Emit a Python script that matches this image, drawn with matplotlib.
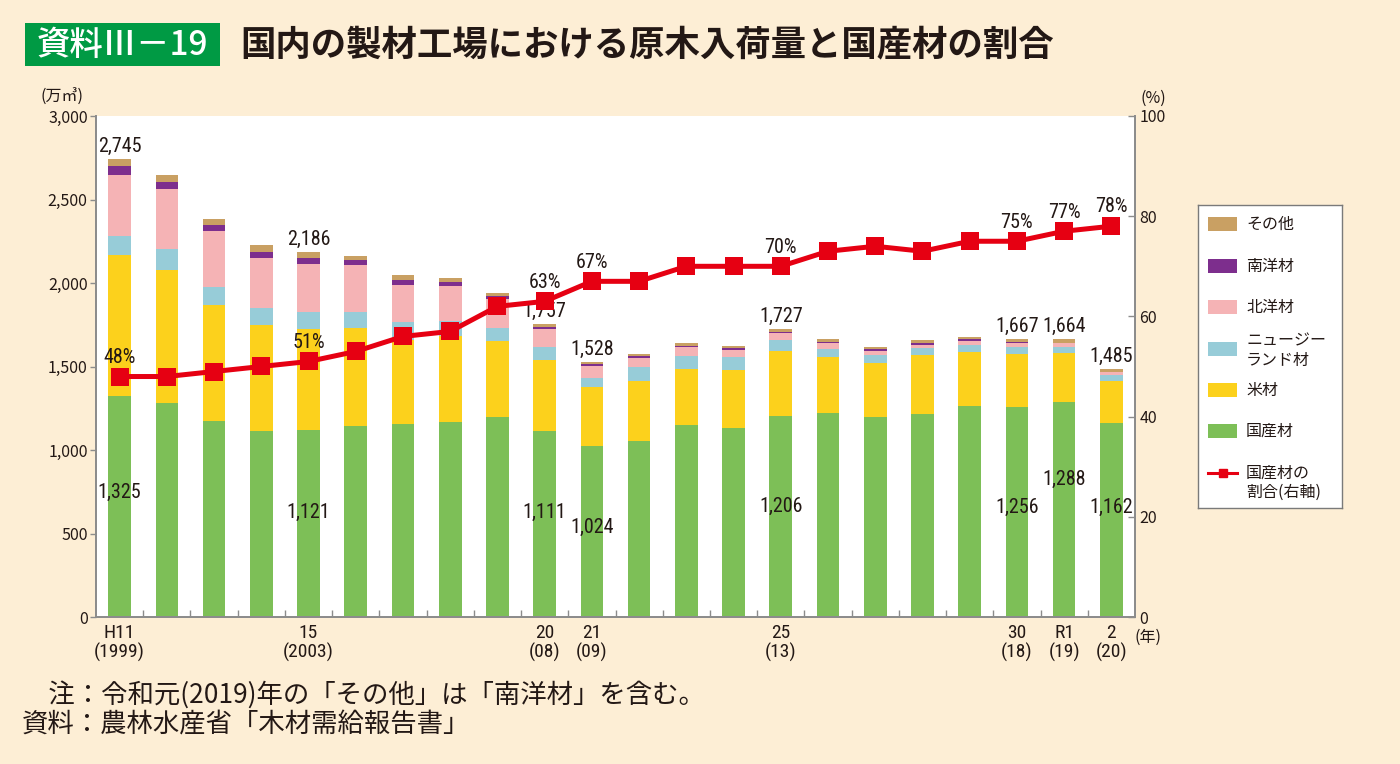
"""
国内の製材工場における原木入荷量と国産材の割合 (資料Ⅲ－19).

Stacked bars: log intake by origin (万㎥, left axis);
red line: share of domestic logs (%, right axis).
"""

import matplotlib
matplotlib.use("Agg")
import matplotlib.pyplot as plt
from matplotlib import font_manager
from matplotlib.patches import Rectangle

plt.rcParams["font.family"] = ["Noto Sans CJK JP", "DejaVu Sans"]

# the reference uses a condensed face for the numbers; pick the narrowest we have
_names = {f.name for f in font_manager.fontManager.ttflist}
NARROW = next((n for n in ("Liberation Sans Narrow", "Roboto Condensed", "Roboto")
               if n in _names), "Noto Sans CJK JP")

BG = "#FDEED5"
INK = "#231815"
AXC = "#8C8C8C"
C_DOM = "#7DBF57"
C_US = "#FCD11C"
C_NZ = "#97CCD8"
C_NORTH = "#F5B3B5"
C_SOUTH = "#7D2E8D"
C_OTHER = "#C9A063"
C_RED = "#E60012"
C_TAG = "#009A44"

# ---------------- data (万㎥ / %) ----------------
years = list(range(1999, 2021))
domestic = [1325, 1279, 1176, 1113, 1121, 1145, 1157, 1165, 1196, 1111, 1024,
            1056, 1147, 1129, 1206, 1221, 1197, 1217, 1262, 1256, 1288, 1162]
us_logs = [840, 801, 695, 634, 606, 588, 504, 520, 455, 425, 351,
           359, 337, 351, 388, 333, 325, 349, 326, 320, 294, 253]
nz_logs = [114, 123, 105, 104, 98, 94, 104, 86, 80, 82, 56,
           80, 76, 76, 62, 50, 46, 42, 40, 40, 34, 32]
north_logs = [368, 359, 333, 300, 291, 281, 225, 213, 175, 107, 72,
              56, 54, 42, 42, 34, 26, 22, 26, 24, 24, 20]
south_logs = [56, 45, 40, 34, 31, 27, 26, 20, 14, 12, 10,
              10, 10, 10, 10, 10, 8, 10, 10, 8, 0, 0]
other_logs = [42, 40, 34, 40, 39, 28, 32, 24, 20, 20, 15,
              12, 16, 14, 19, 16, 12, 16, 14, 19, 24, 18]
domestic_share = [48, 48, 49, 50, 51, 53, 56, 57, 62, 63, 67,
                  67, 70, 70, 70, 73, 74, 73, 75, 75, 77, 78]

# bars that carry labels, and their x-axis labels
label_idx = [0, 4, 9, 10, 14, 19, 20, 21]
tick_labels = ["H11\n(1999)", "15\n(2003)", "20\n(08)", "21\n(09)",
               "25\n(13)", "30\n(18)", "R1\n(19)", "2\n(20)"]
# height (left-axis units) where the 国産材 value sits inside each labelled bar
dom_label_y = [747, 627, 627, 538, 663, 657, 825, 657]

series = [
    ("国産材", domestic, C_DOM),
    ("米材", us_logs, C_US),
    ("ニュージー\nランド材", nz_logs, C_NZ),
    ("北洋材", north_logs, C_NORTH),
    ("南洋材", south_logs, C_SOUTH),
    ("その他", other_logs, C_OTHER),
]

fig = plt.figure(figsize=(14.0, 7.64), dpi=100, facecolor=BG)
ax = fig.add_axes([96 / 1400, 1 - 617 / 764, 1039 / 1400, 501 / 764])
ax.set_facecolor("white")

x = list(range(len(years)))
bottom = [0] * len(years)
for name, vals, color in series:
    ax.bar(x, vals, width=0.48, bottom=bottom, color=color, linewidth=0)
    bottom = [b + v for b, v in zip(bottom, vals)]
totals = bottom

ax.set_xlim(-0.5, 21.5)
ax.set_ylim(0, 3000)
ax.set_yticks(range(0, 3001, 500))
ax.set_yticklabels([f"{v:,}" for v in range(0, 3001, 500)])
ax.set_xticks(label_idx)
ax.set_xticklabels(tick_labels, family=NARROW, fontsize=14, linespacing=1.05)
ax.set_xticks([i + 0.5 for i in range(21)], minor=True)
ax.tick_params(axis="x", which="major", length=0, pad=5, colors=INK)
ax.tick_params(axis="x", which="minor", direction="in", length=5, width=1.0, color=AXC)
ax.tick_params(axis="y", direction="out", length=4, width=1.0, color=AXC,
               labelcolor=INK, labelsize=11.5, pad=2)
ax.spines["top"].set_visible(False)
for s in ("left", "right", "bottom"):
    ax.spines[s].set_color(AXC)
    ax.spines[s].set_linewidth(1.3)

# totals above bars, 国産材 inside
for k, i in enumerate(label_idx):
    ax.annotate(f"{totals[i]:,}", (i, totals[i]), xytext=(0, 2),
                textcoords="offset points", ha="center", va="bottom",
                family=NARROW, fontsize=14.5, color=INK)
    ax.text(i, dom_label_y[k], f"{domestic[i]:,}", ha="center", va="center",
            family=NARROW, fontsize=14.5, color=INK)

# ---------------- right axis: share line ----------------
ax2 = ax.twinx()
ax2.set_ylim(0, 100)
ax2.set_yticks(range(0, 101, 20))
ax2.tick_params(axis="y", direction="in", length=5, width=1.0, color=AXC,
                labelcolor=INK, labelsize=11.5, pad=3)
ax2.spines["top"].set_visible(False)
for s in ("left", "right", "bottom"):
    ax2.spines[s].set_color(AXC)
    ax2.spines[s].set_linewidth(1.3)
ax2.plot(x, domestic_share, color=C_RED, linewidth=3.6, marker="s",
         markersize=12.5, markeredgewidth=0, zorder=5)
for i in label_idx:
    ax2.annotate(f"{domestic_share[i]}%", (i, domestic_share[i]), xytext=(0, 7),
                 textcoords="offset points", ha="center", va="bottom",
                 family=NARROW, fontsize=14.5, color=INK)

# ---------------- unit labels ----------------
fig.text(40 / 1400, 1 - 97 / 764, "(万㎥)", fontsize=11.5, color=INK, va="center")
fig.text(1140 / 1400, 1 - 98 / 764, "(%)", fontsize=11.5, color=INK, va="center")
fig.text(1135 / 1400, 1 - 637 / 764, "(年)", fontsize=11.5, color=INK, va="center")

# ---------------- legend (drawn in its own small axes) ----------------
lax = fig.add_axes([1198 / 1400, 1 - 508 / 764, 144 / 1400, 303 / 764])
lax.set_xlim(0, 144)
lax.set_ylim(303, 0)
lax.set_xticks([])
lax.set_yticks([])
for s in lax.spines.values():
    s.set_color("#7A7A7A")
    s.set_linewidth(1.0)
leg_rows = [("その他", C_OTHER, 19, 19), ("南洋材", C_SOUTH, 61, 61),
            ("北洋材", C_NORTH, 102, 102), ("ニュージー\nランド材", C_NZ, 144, 146),
            ("米材", C_US, 185, 185), ("国産材", C_DOM, 226, 226)]
for label, color, yh, yt in leg_rows:
    lax.add_patch(Rectangle((10, yh - 7), 29, 14, color=color, linewidth=0))
    lax.text(48, yt, label, fontsize=11.5, color=INK, va="center", linespacing=1.2)
lax.plot([10, 39], [268, 268], color=C_RED, linewidth=2.2)
lax.plot([24.5], [268], marker="s", markersize=6, color=C_RED)
lax.text(48, 278, "国産材の\n割合(右軸)", fontsize=11.5, color=INK, va="center",
         linespacing=1.2)

# ---------------- title ----------------
fig.add_artist(Rectangle((25 / 1400, 1 - 66 / 764), 195 / 1400, 43 / 764,
                         transform=fig.transFigure, color=C_TAG, linewidth=0))
fig.text(122 / 1400, 1 - 45 / 764, "資料Ⅲ－19", fontsize=24, fontweight="medium",
         color="white", ha="center", va="center")
fig.text(240 / 1400, 1 - 45 / 764, "国内の製材工場における原木入荷量と国産材の割合",
         fontsize=25.5, fontweight="bold", color=INK, va="center")

# ---------------- notes ----------------
fig.text(22 / 1400, 1 - 695 / 764, "\u3000注：令和元(2019)年の「その他」は「南洋材」を含む。",
         fontsize=19, color=INK, va="center")
fig.text(22 / 1400, 1 - 725 / 764, "資料：農林水産省「木材需給報告書」",
         fontsize=19, color=INK, va="center")

fig.savefig("out.png", dpi=100, facecolor=BG)
